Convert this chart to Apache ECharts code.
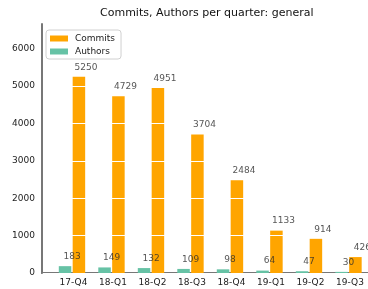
<!DOCTYPE html>
<html>
<head>
<meta charset="utf-8">
<script src="https://cdn.jsdelivr.net/npm/echarts@6/dist/echarts.min.js"></script>
<style>
  html, body { margin: 0; padding: 0; background: #fff; }
  #main { width: 368px; height: 289px; }
</style>
</head>
<body>
<div id="main"></div>
<script>
// quarters and values
var quarters = ['17-Q4', '18-Q1', '18-Q2', '18-Q3', '18-Q4', '19-Q1', '19-Q2', '19-Q3'];
var commits = [5250, 4729, 4951, 3704, 2484, 1133, 914, 426];
var authors = [183, 149, 132, 109, 98, 64, 47, 30];
var yTicks = [0, 1000, 2000, 3000, 4000, 5000, 6000];

var font = 'DejaVu Sans';
var bw = 12.5, gap = 1.4;

var chart = echarts.init(document.getElementById('main'));

function pairs(arr) {
  return arr.map(function (v, i) { return [i, v]; });
}

// value labels sit above each bar, a bit to the right (like the original)
// kept in their own series so the white grid lines don't cut through them
function labelSeries(name, arr, dx) {
  return {
    name: name,
    type: 'scatter',
    z: 6,
    symbolSize: 0,
    silent: true,
    data: pairs(arr),
    label: {
      show: true,
      position: 'top',
      distance: 5,
      offset: [dx, 0],
      fontFamily: font,
      fontSize: 9,
      color: '#2a2a2a',
      formatter: function (p) { return p.value[1]; }
    }
  };
}

var option = {
  animation: false,
  textStyle: { fontFamily: font },
  title: {
    text: 'Commits, Authors per quarter: general',
    left: 100,
    top: 8,
    padding: 0,
    textStyle: { fontFamily: font, fontSize: 11, fontWeight: 'normal', color: '#111' }
  },
  legend: {
    orient: 'vertical',
    left: 46,
    top: 30,
    z: 10,
    padding: [4, 6, 3, 4],
    itemGap: 4,
    itemWidth: 18,
    itemHeight: 6,
    icon: 'rect',
    borderColor: '#d0d0d0',
    borderWidth: 1,
    borderRadius: 3,
    backgroundColor: '#fff',
    data: ['Commits', 'Authors'],
    textStyle: { fontFamily: font, fontSize: 9, color: '#222', padding: [0, 0, 0, 2] }
  },
  grid: { left: 42, right: 0, top: 24, bottom: 16 },
  xAxis: {
    type: 'value',
    min: -0.759,
    max: 7.494,
    axisLine: { show: true, onZero: false, lineStyle: { color: '#777', width: 2 } },
    axisTick: { show: false },
    splitLine: { show: false },
    axisLabel: {
      customValues: [0, 1, 2, 3, 4, 5, 6, 7],
      formatter: function (v) { return quarters[Math.round(v)]; },
      fontFamily: font,
      fontSize: 9,
      color: '#222',
      margin: 5,
      padding: [0, 0, 0, 3]
    }
  },
  yAxis: {
    type: 'value',
    min: 0,
    max: 6660,
    z: 3,
    axisLine: { show: true, onZero: false, lineStyle: { color: '#777', width: 2 } },
    axisTick: { show: false },
    axisLabel: {
      customValues: yTicks,
      formatter: function (v) { return String(v); },
      fontFamily: font,
      fontSize: 9,
      color: '#222',
      margin: 7
    },
    splitLine: { show: true, lineStyle: { color: '#fff', width: 1 } }
  },
  series: [
    {
      name: 'Authors',
      type: 'bar',
      data: pairs(authors),
      barWidth: bw,
      barGap: '11%',
      itemStyle: { color: '#66c2a5' }
    },
    {
      name: 'Commits',
      type: 'bar',
      data: pairs(commits),
      barWidth: bw,
      barGap: '11%',
      itemStyle: { color: '#ffa500' }
    },
    labelSeries('authorsText', authors, -(bw + gap) / 2 + 7),
    labelSeries('commitsText', commits, (bw + gap) / 2 + 7)
  ]
};

chart.setOption(option);
</script>
</body>
</html>
